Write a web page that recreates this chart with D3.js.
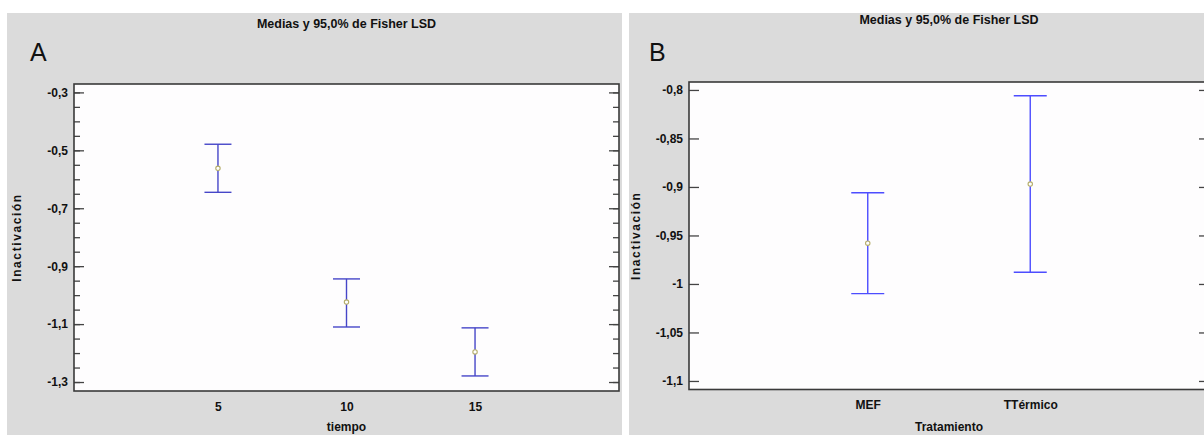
<!DOCTYPE html>
<html>
<head>
<meta charset="utf-8">
<script src="https://cdn.jsdelivr.net/npm/d3@7"></script>
<style>
  body { margin: 0; background: #fff; }
  svg text { font-family: "Liberation Sans", Arial, sans-serif; font-weight: bold; fill: #111; }
</style>
</head>
<body>
<div id="chart"></div>
<script>
// panel A: tiempo
const tiempoCats = ['5', '10', '15'];
const tiempoMeans = [-0.562, -1.024, -1.196];
const tiempoLower = [-0.645, -1.110, -1.279];
const tiempoUpper = [-0.479, -0.944, -1.113];
const tiempoTicks = [-0.3, -0.5, -0.7, -0.9, -1.1, -1.3];
const tiempoMinor = d3.range(-0.3, -1.31, -0.05);

// panel B: Tratamiento
const tratCats = ['MEF', 'TTérmico'];
const tratMeans = [-0.958, -0.897];
const tratLower = [-1.010, -0.988];
const tratUpper = [-0.906, -0.806];
const tratTicks = [-0.8, -0.85, -0.9, -0.95, -1, -1.05, -1.1];

const titleText = 'Medias y 95,0% de Fisher LSD';
const yLabel = 'Inactivación';

const W = 1204, H = 435;
const locale = d3.formatLocale({ decimal: ',', thousands: '.', grouping: [3], currency: ['', ''], minus: '-' });
const fmt = locale.format('~g');

const svg = d3.select('#chart').append('svg')
    .attr('width', W)
    .attr('height', H);

function drawPanel (opt) {
    const g = svg.append('g');

    // fondo gris
    g.append('rect')
        .attr('x', opt.bg[0]).attr('y', 13)
        .attr('width', opt.bg[1] - opt.bg[0]).attr('height', H - 13)
        .attr('fill', '#dbdbdb');

    const m = opt.plot; // left, top, right, bottom
    g.append('rect')
        .attr('x', m.left).attr('y', m.top)
        .attr('width', m.right - m.left).attr('height', m.bottom - m.top)
        .attr('fill', '#fefdfe');

    const x = d3.scalePoint()
        .domain(opt.cats)
        .range([m.left, m.right])
        .padding(opt.padding);
    const y = d3.scaleLinear()
        .domain(opt.domain)
        .range([m.bottom, m.top]);

    // minor ticks
    if (opt.minor) {
        g.append('g')
            .attr('transform', `translate(${m.left},0)`)
            .call(d3.axisLeft(y).tickValues(opt.minor).tickSize(-6).tickFormat(''))
            .call(s => s.select('.domain').remove());
        g.append('g')
            .attr('transform', `translate(${m.right},0)`)
            .call(d3.axisRight(y).tickValues(opt.minor).tickSize(-6).tickFormat(''))
            .call(s => s.select('.domain').remove());
    }

    const yl = g.append('g')
        .attr('transform', `translate(${m.left},0)`)
        .call(d3.axisLeft(y).tickValues(opt.ticks).tickSize(-10).tickPadding(6).tickFormat(fmt));
    yl.select('.domain').remove();
    yl.selectAll('text').style('font-size', '12px').attr('fill', '#111');

    g.append('g')
        .attr('transform', `translate(${m.right},0)`)
        .call(d3.axisRight(y).tickValues(opt.ticks).tickSize(-10).tickFormat(''))
        .call(s => s.select('.domain').remove());

    g.selectAll('.tick line').attr('stroke', '#444').attr('stroke-width', 1.3);

    const xa = g.append('g')
        .attr('transform', `translate(0,${m.bottom})`)
        .call(d3.axisBottom(x).tickSize(0).tickPadding(11));
    xa.select('.domain').remove();
    xa.selectAll('text').style('font-size', '12px').attr('fill', '#111');

    // borde
    g.append('rect')
        .attr('x', m.left).attr('y', m.top)
        .attr('width', m.right - m.left).attr('height', m.bottom - m.top)
        .attr('fill', 'none')
        .attr('stroke', '#3a3a3a')
        .attr('stroke-width', 1.6);

    // intervalos LSD
    const rows = opt.cats.map((c, i) => ({ c, mean: opt.means[i], lo: opt.lower[i], hi: opt.upper[i] }));
    const bars = g.selectAll('g.bar').data(rows).enter().append('g').attr('class', 'bar');
    bars.append('line')
        .attr('x1', d => x(d.c)).attr('x2', d => x(d.c))
        .attr('y1', d => y(d.hi)).attr('y2', d => y(d.lo));
    bars.append('line')
        .attr('x1', d => x(d.c) - opt.cap).attr('x2', d => x(d.c) + opt.cap)
        .attr('y1', d => y(d.hi)).attr('y2', d => y(d.hi));
    bars.append('line')
        .attr('x1', d => x(d.c) - opt.cap).attr('x2', d => x(d.c) + opt.cap)
        .attr('y1', d => y(d.lo)).attr('y2', d => y(d.lo));
    bars.selectAll('line')
        .attr('stroke', opt.color)
        .attr('stroke-width', 1.4);
    bars.append('circle')
        .attr('cx', d => x(d.c)).attr('cy', d => y(d.mean))
        .attr('r', 2.2)
        .attr('fill', '#fff')
        .attr('stroke', '#b5ad6a')
        .attr('stroke-width', 1.1);

    const cx = (m.left + m.right) / 2;
    g.append('text')
        .attr('x', cx).attr('y', opt.titleY)
        .attr('text-anchor', 'middle')
        .style('font-size', '12.5px')
        .text(titleText);

    g.append('text')
        .attr('x', opt.letterX).attr('y', 61)
        .style('font-size', '25px')
        .style('font-weight', 'normal')
        .text(opt.letter);

    g.append('text')
        .attr('x', cx).attr('y', 431)
        .attr('text-anchor', 'middle')
        .style('font-size', '12px')
        .text(opt.xLabel);

    g.append('text')
        .attr('transform', `translate(${opt.yLabelX},${(m.top + m.bottom) / 2}) rotate(-90)`)
        .attr('text-anchor', 'middle')
        .style('font-size', '12px')
        .style('letter-spacing', '1.6px')
        .text(yLabel);
}

drawPanel({
    bg: [7, 622],
    plot: { left: 74, top: 84, right: 619, bottom: 391 },
    cats: tiempoCats, means: tiempoMeans, lower: tiempoLower, upper: tiempoUpper,
    ticks: tiempoTicks, minor: tiempoMinor,
    domain: [-1.331, -0.271],
    padding: 1.12, cap: 13.5,
    color: '#4646c8',
    letter: 'A', letterX: 30, titleY: 28,
    xLabel: 'tiempo', yLabelX: 21
});

drawPanel({
    bg: [629, W],
    plot: { left: 689, top: 82, right: 1209, bottom: 389.5 },
    cats: tratCats, means: tratMeans, lower: tratLower, upper: tratUpper,
    ticks: tratTicks, minor: null,
    domain: [-1.1088, -0.7918],
    padding: 1.1, cap: 16.5,
    color: '#4d4dff',
    letter: 'B', letterX: 649, titleY: 24,
    xLabel: 'Tratamiento', yLabelX: 640
});
</script>
</body>
</html>
